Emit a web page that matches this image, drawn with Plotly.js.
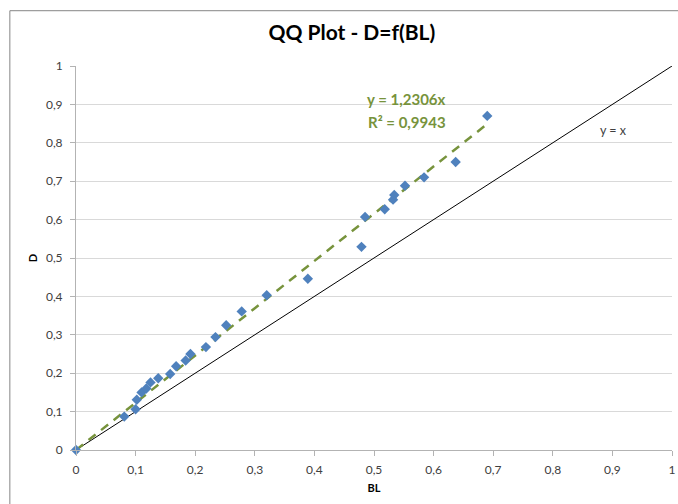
<!DOCTYPE html>
<html>
<head>
<meta charset="utf-8">
<script src="https://cdn.plot.ly/plotly-3.0.1.min.js"></script>
<style>html,body{margin:0;padding:0;background:#fff;}#chart{width:678px;height:504px;}</style>
</head>
<body>
<div id="chart"></div>
<script>
// Data
const blValues = [0, 0.081, 0.100, 0.102, 0.110, 0.118, 0.125, 0.138, 0.158, 0.168, 0.184, 0.192, 0.218, 0.234, 0.252, 0.278, 0.320, 0.389, 0.479, 0.485, 0.518, 0.532, 0.534, 0.552, 0.584, 0.637, 0.690];
const dValues  = [0, 0.087, 0.106, 0.131, 0.150, 0.160, 0.176, 0.187, 0.198, 0.218, 0.233, 0.250, 0.268, 0.294, 0.325, 0.361, 0.403, 0.446, 0.529, 0.607, 0.627, 0.652, 0.664, 0.688, 0.710, 0.750, 0.870];
const trendSlope = 1.2306;
const trendR2 = "0,9943";
const identityX = [0, 1];
const tickVals = [0, 0.1, 0.2, 0.3, 0.4, 0.5, 0.6, 0.7, 0.8, 0.9, 1];

const xMax = Math.max(...blValues);
const trendX = [0, xMax];
const trendY = trendX.map(v => v * trendSlope);

const FONT = "Lato, 'Open Sans', sans-serif";

const traces = [
  {x: identityX, y: identityX, mode: 'lines', line: {color: '#000000', width: 1}, hoverinfo: 'skip'},
  {x: trendX, y: trendY, mode: 'lines', line: {color: '#77933C', width: 2.5, dash: '9px,7px'}, hoverinfo: 'skip'},
  {x: blValues, y: dValues, mode: 'markers', marker: {symbol: 'diamond', size: 8, color: '#4F81BD'}, cliponaxis: false}
];

const layout = {
  width: 678, height: 504,
  margin: {l: 76, r: 6, t: 66, b: 54},
  paper_bgcolor: '#ffffff', plot_bgcolor: '#ffffff',
  separators: ', ',
  showlegend: false,
  hovermode: false,
  font: {family: FONT, color: '#404040', size: 12},
  title: {text: '<b>QQ Plot - D=f(BL)</b>', x: 0.519, xanchor: 'center', y: 0.936, yanchor: 'middle', font: {family: FONT, size: 21, color: '#000000'}},
  xaxis: {
    range: [0, 1], tickvals: tickVals, tickformat: '.1~f',
    showgrid: false, zeroline: false, showline: true, linecolor: '#b3b3b3', linewidth: 1,
    ticks: 'outside', ticklen: 5, tickcolor: '#b3b3b3', ticklabelstandoff: 4,
    tickfont: {family: FONT, size: 12, color: '#404040'},
    title: {text: '<b>BL</b>', standoff: 7, font: {family: FONT, size: 11, color: '#000000'}}
  },
  yaxis: {
    range: [0, 1], tickvals: tickVals, tickformat: '.1~f',
    showgrid: true, gridcolor: '#d9d9d9', gridwidth: 1, zeroline: false,
    showline: true, linecolor: '#b3b3b3', linewidth: 1,
    ticks: 'outside', ticklen: 5, tickcolor: '#b3b3b3', ticklabelstandoff: 5,
    tickfont: {family: FONT, size: 12, color: '#404040'},
    title: {text: '<b>D</b>', standoff: 6, font: {family: FONT, size: 11, color: '#000000'}}
  },
  annotations: [
    {x: 0.624, y: 0.915, xref: 'x', yref: 'y', xanchor: 'right', yanchor: 'middle', showarrow: false,
     text: '<b>y = 1,2306x</b>', font: {family: FONT, size: 15, color: '#77933C'}},
    {x: 0.624, y: 0.855, xref: 'x', yref: 'y', xanchor: 'right', yanchor: 'middle', showarrow: false,
     text: '<b>R² = ' + trendR2 + '</b>', font: {family: FONT, size: 15, color: '#77933C'}},
    {x: 0.901, y: 0.831, xref: 'x', yref: 'y', xanchor: 'center', yanchor: 'middle', showarrow: false,
     text: 'y = x', font: {family: FONT, size: 12.5, color: '#404040'}}
  ],
  shapes: [
    {type: 'rect', xref: 'paper', yref: 'paper', x0: -0.111, x1: 1.05, y0: -0.2, y1: 1.144,
     line: {color: '#868686', width: 1}, fillcolor: 'rgba(0,0,0,0)', layer: 'below'}
  ]
};

Plotly.newPlot('chart', traces, layout, {staticPlot: true, displayModeBar: false});
</script>
</body>
</html>
